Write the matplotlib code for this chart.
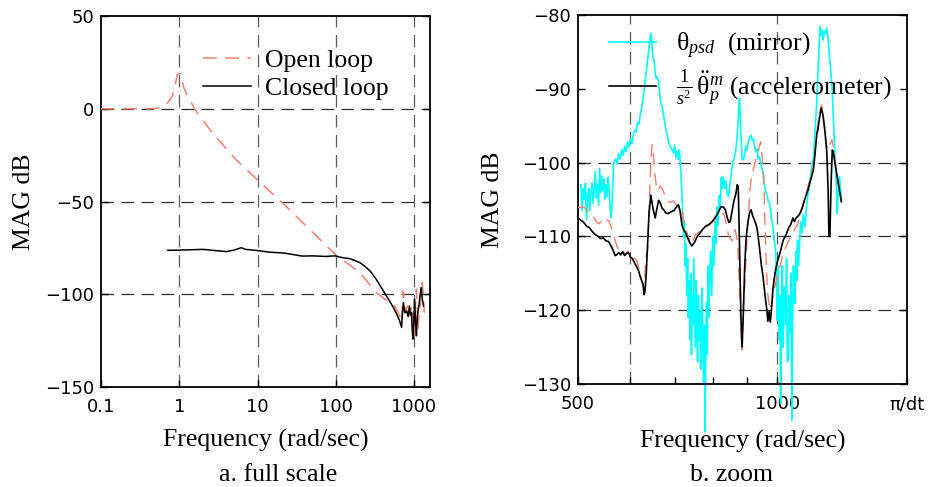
import numpy as np
import matplotlib
matplotlib.use('Agg')
import matplotlib.pyplot as plt

plt.rcParams['font.family'] = ['Liberation Serif', 'DejaVu Sans']
plt.rcParams['mathtext.fontset'] = 'custom'
plt.rcParams['mathtext.rm'] = 'Liberation Serif'
plt.rcParams['mathtext.it'] = 'Liberation Serif:italic'
plt.rcParams['mathtext.bf'] = 'Liberation Serif:bold'

# ---- full scale: open loop vs closed loop ----
open_freq = [0.1, 0.15, 0.2, 0.3, 0.4, 0.5, 0.57, 0.65, 0.72, 0.81, 0.88, 0.94, 1.02, 1.06,
             1.13, 1.25, 1.36, 1.59, 2.66, 5.3, 9.9, 23.0, 51.2, 100, 203, 330, 450, 540, 580,
             626, 660, 694, 710, 728, 750, 784, 810, 838, 870, 899, 925, 949, 975, 1000,
             1030, 1072, 1100, 1124, 1160, 1204, 1240, 1270, 1310, 1351]
open_db = [0, 0, 0, 0, 0, 0.2, 0.8, 2.0, 3.5, 6.6, 12, 18.3, 19.2, 17.5,
           12, 7.5, 4.8, -0.5, -13.1, -27.4, -38.2, -52.5, -66.8, -78.8, -88.3, -99.1, -103.5,
           -105.4, -107, -109.9, -112, -115.2, -106, -98.2, -104, -109.9, -107, -105.4, -110,
           -111.7, -106, -108.1, -115, -122.4, -110, -97.3, -110, -118.8, -110, -106.3, -98,
           -93.7, -100, -109.9]

closed_freq = [0.71, 1, 2, 3, 4, 5, 6.2, 7, 9.8, 14.2, 22, 37, 50, 75, 97, 120, 150,
               175, 204, 240, 275, 320, 370, 430, 500, 550, 600, 650, 694, 705, 730, 760,
               806, 840, 872, 900, 925, 945, 966, 990, 1016, 1045, 1072, 1100, 1153, 1190,
               1234, 1280, 1322]
closed_db = [-76.3, -76.2, -75.8, -76.5, -77.0, -76.2, -74.9, -75.8, -76.4, -77.3, -77.8,
             -79.4, -79.3, -79.6, -79.3, -80.2, -80.8, -81.8, -83.0, -85.2, -87.5, -91.2, -95.5,
             -100, -104.5, -107.5, -110.7, -114, -117.9, -112, -104.5, -110, -109, -112, -106.3,
             -111, -109.9, -118, -124.2, -115, -102.7, -115, -122.4, -112, -106.3, -101, -96.4,
             -103, -106.3]

# ---- zoom: mirror psd, accelerometer, loop response ----
mirror_freq = [505, 507, 509, 511, 513, 515, 517, 519, 521, 523, 525, 527, 529, 531, 533, 535,
               537, 539, 541, 543, 545, 547, 549, 551, 553, 555, 557, 559, 561, 563,
               566, 570, 573, 576, 579, 582, 585, 588, 591, 594, 597, 600, 603, 606, 609, 612,
               615, 618, 621, 624, 627, 630, 633, 636, 639, 642, 644, 646, 648, 650, 652, 654,
               656, 658, 661, 664, 667, 670, 673, 677, 681, 685, 689, 693, 697, 700, 703, 706,
               709, 711, 714, 717,
               719, 722, 724, 726, 728, 730, 732, 734, 736, 738, 740, 742, 744, 746, 748, 750,
               752, 754, 756, 758, 760, 762, 764, 766, 768, 770, 772, 774, 776, 778, 780, 782,
               784, 786, 788, 790, 793, 796, 799, 802, 805, 808, 811, 814, 817, 820, 823, 826,
               829, 833, 836, 840, 844, 848, 852, 856, 860, 864, 868, 872, 875, 877, 879, 882,
               885, 889, 893, 897, 900, 904, 908, 913, 917, 921, 924, 928, 932, 936, 940, 944,
               948, 952, 955, 958, 962, 966, 970, 973, 976, 980, 983, 986, 989, 992, 995, 998,
               1000, 1003, 1006, 1009, 1012, 1015, 1018, 1021, 1024, 1027, 1030, 1033, 1036,
               1040, 1043, 1046, 1049, 1052, 1055, 1058, 1061, 1064, 1067, 1070, 1073, 1077,
               1081, 1085, 1090, 1095, 1101, 1107, 1112, 1117, 1122, 1128, 1134, 1140, 1147,
               1152, 1156, 1160, 1164, 1168, 1173, 1178, 1183, 1188, 1193, 1198, 1204, 1210,
               1216, 1220, 1223, 1228, 1232, 1236, 1239, 1242, 1246, 1250]
mirror_db = [-103.0, -106.5, -103.5, -105, -102.8, -107.7, -104.5, -103.5, -106.5, -104, -102.8,
             -105.5, -103.5, -101.2, -104.8, -103, -105.8, -100.8, -104, -101.8, -103.8, -102.2,
             -105, -103, -104.6, -102, -103.5, -106, -107.5, -105.3,
             -100, -99.5, -100.2, -98.8, -99.5, -98.2, -99, -97.8, -98.5, -97.2, -97.9, -96.8,
             -97.4, -96.2, -95.6, -95.9, -94.5, -94.8, -93.5, -92.5, -91.2, -89.8, -88.2, -86.5,
             -85, -83.2, -82.5, -83.5, -85.2, -85.8, -86.5, -87.8, -88.6, -88.4, -88.8, -90.5,
             -92, -92.3, -93.5, -95, -96, -97.2, -97.8, -98.2, -98.7, -97.6, -99.3, -98.5,
             -99.6, -98.3, -100.2, -103.3,
             -106, -110, -108, -114, -111, -118, -113, -121, -116, -124, -115, -126, -118,
             -122, -113, -119, -125, -116, -123, -127, -118, -124, -120, -128, -121, -117,
             -125, -130, -122, -136.5, -124, -119, -126, -114, -121, -117, -112, -118, -110,
             -114, -108, -111, -106, -108.5, -104.5, -106, -102, -103.5,
             -101.9, -103.5, -102.5, -104.2, -104.6, -103, -101.5, -100.2, -99.5, -98.7, -97.5,
             -95, -92.5, -91.3, -93.5, -97, -99.6, -99.6, -98.8, -97.8, -98.3, -97.2, -96.6,
             -96.3, -97, -96.8, -97.8, -98.5, -98.2, -99.5, -99.2, -100.1, -100.8, -101.5,
             -102.6, -103.3, -104.2, -104.6, -105.4, -105.5, -106, -107.6, -108.1, -109, -110.5,
             -111, -112.3, -117,
             -121.3, -114, -124, -118, -132.6, -120, -114, -125, -117, -116.8, -122, -113, -127,
             -126.3, -118, -123, -115, -134.9, -121, -114, -119, -119.1, -112, -116, -110.5,
             -114, -110.5, -108, -109.5, -107, -108.7, -106, -104.5, -103.5, -102, -100.5,
             -99.6, -96, -92, -88, -84.5, -81.6, -82.8, -82, -83.4, -82.2, -82.5, -81.8, -83,
             -85, -87.5, -89.7, -94, -97, -99.6, -103, -106.9, -104, -102.5, -101.9, -103.5,
             -105.1]

accel_freq = [500, 505, 510, 515, 520, 525, 530, 536, 541, 546, 551, 556, 561, 565, 569, 572,
              576, 580, 584, 588, 592, 596, 600, 604, 608, 613, 617, 621, 624, 627, 629, 631,
              634, 637, 640, 644, 647, 650, 654, 658, 662, 666, 670, 674, 678, 683, 688, 693,
              698, 703, 709, 713, 718, 722, 727, 732, 737, 743, 750, 757, 765, 772, 780, 788,
              797, 805, 814, 822, 829, 835, 840, 845, 849, 855, 860, 866, 870, 873, 876, 879,
              882, 885, 889, 893, 897, 902, 908, 913, 918, 924, 929, 933, 940, 946, 952, 959,
              964, 968, 972, 976, 980, 985, 992, 1000, 1010, 1021, 1031, 1040, 1048, 1056,
              1061, 1068, 1076, 1081, 1092, 1100, 1113, 1122, 1134, 1140, 1147, 1152, 1158,
              1166, 1172, 1180, 1188, 1194, 1197, 1201, 1206, 1211, 1215, 1222, 1232, 1241, 1250]
accel_db = [-107.5, -107.8, -108.1, -108.6, -108.8, -109.3, -109.7, -110.0, -110.3, -110.2,
            -110.6, -110.7, -111.3, -111.9, -112.6, -112.5, -112.2, -112.5, -112.1, -112.6,
            -112.3, -112.2, -112.8, -113.0, -113.5, -114.1, -114.6, -115.5, -116.0, -116.5,
            -117.9, -117.5, -115.0, -111.0, -107.0, -104.4, -105.5, -106.5, -107.5, -106.2,
            -105.1, -105.5, -106.2, -106.4, -106.8, -106.9, -106.8, -106.6, -106.5, -106.1,
            -105.7, -106.5, -108.5, -109.1, -109.5, -110.2, -110.8, -111.3, -110.8, -110.0,
            -109.5, -109.0, -108.6, -108.4, -108.0, -107.5, -106.8, -106.0, -106.0, -106.4,
            -107.4, -108.1, -108.0, -106.5, -105.2, -104.2, -103.0, -103.2, -109.0, -116.0,
            -122.0, -125.0, -120.0, -114.0, -110.5, -108.4, -106.8, -106.4, -107.2, -107.8,
            -108.4, -109.1, -111.5, -113.8, -115.5, -118.2, -119.8, -121.5, -120.2, -121.6,
            -120.0, -117.2, -115.0, -113.5, -112.2, -110.5, -109.8, -108.9, -108.4, -107.5,
            -108.0, -107.5, -107.2, -107.0, -106.0, -105.0, -103.7, -102.5, -101.0, -99.0,
            -96.3, -95.5, -94.0, -92.6, -93.5, -95.6, -98.5, -104.0, -110.0, -110.0, -103.0,
            -98.3, -98.5, -100.0, -101.9, -103.6, -105.3]

loop_freq = [500, 505, 510, 515, 520, 524, 528, 533, 538, 542, 547, 551, 556, 560, 565, 570,
             575, 580, 585, 590, 595, 600, 605, 609, 613, 617, 621, 624, 627, 630, 634, 637,
             641, 644, 647, 650, 653, 657, 661, 665, 670, 675, 681, 686, 691, 696, 701, 706,
             711, 717, 721, 726, 730, 735, 740, 746, 752, 760, 767, 774, 780, 787, 793, 800,
             808, 815, 822, 829, 834, 840, 845, 849, 854, 859, 864, 868, 872, 876, 880, 884,
             888, 891, 894, 899, 904, 909, 913, 918, 924, 928, 932, 937, 941, 944, 948, 951,
             954, 958, 962, 965, 968, 972, 976, 980, 985, 992, 1000, 1010, 1021, 1030, 1042,
             1050, 1058, 1066, 1073, 1081, 1092, 1100, 1113, 1122, 1134, 1140, 1147, 1155,
             1160, 1166, 1172, 1180, 1188, 1194, 1202, 1210, 1218, 1225, 1231, 1240, 1250]
loop_db = [-106.0, -106.1, -106.0, -106.4, -106.8, -106.9, -107.4, -108.0, -108.3, -107.9,
           -108.2, -107.8, -107.8, -108.5, -109.6, -110.8, -111.8, -112.6, -112.1, -112.4,
           -112.0, -112.5, -112.9, -113.0, -113.2, -114.0, -115.0, -116.0, -116.8, -116.0,
           -112.5, -111.8, -105.0, -100.0, -97.6, -99.0, -101.5, -103.3, -103.8, -103.2,
           -103.5, -104.2, -105.1, -105.3, -105.4, -105.2, -105.5, -105.9, -106.0, -106.2,
           -107.5, -108.8, -109.4, -110.2, -111.2, -110.5, -109.8, -109.5, -109.2, -108.9,
           -108.8, -108.5, -108.3, -108.0, -107.6, -107.3, -107.0, -106.9, -107.5, -109.0,
           -110.0, -110.2, -110.6, -109.8, -109.1, -110.0, -111.5, -116.0, -121.0, -125.4,
           -121.0, -117.5, -116.3, -111.0, -107.5, -104.0, -102.4, -101.3, -100.3, -99.5,
           -98.7, -98.3, -97.6, -97.2, -98.8, -100.5, -101.9, -108.0, -113.0, -115.9, -118.0,
           -119.2, -120.0, -119.0, -118.3, -116.8, -115.5, -114.0, -112.3, -111.5, -110.5,
           -109.8, -109.5, -108.8, -108.5, -107.3, -106.1, -105.0, -103.2, -102.0, -100.6,
           -98.8, -96.0, -94.0, -93.0, -92.2, -93.0, -95.5, -97.8, -98.3, -97.5, -96.9, -98.5,
           -100.5, -101.9, -103.5, -105.3]

dt = 0.002
nyquist = np.pi / dt

salmon = '#f4806c'
grid_h = '#303030'
grid_v = '#5c5c5c'
tick_font = 'DejaVu Sans'
label_size = 18.5


def dashed_grid(ax, xs, ys):
    for x in xs:
        ax.axvline(x, color=grid_v, lw=0.9, dashes=(10, 6), zorder=1)
    for y in ys:
        ax.axhline(y, color=grid_h, lw=0.9, dashes=(10, 6), zorder=1)


def style_axes(ax):
    for s in ax.spines.values():
        s.set_linewidth(1.3)
    ax.tick_params(which='both', direction='in', length=5, width=1, right=True, top=False,
                   labelsize=13, labelfontfamily=tick_font, pad=5)
    ax.tick_params(axis='x', pad=8)


fig = plt.figure(figsize=(9.32, 4.87), dpi=100)
ax1 = fig.add_axes([0.1084, 0.2053, 0.353, 0.7618])
ax2 = fig.add_axes([0.6202, 0.2115, 0.353, 0.7577])

# left: full frequency range
ax1.set_xscale('log')
ax1.plot(open_freq, open_db, color=salmon, lw=1.1, dashes=(9, 5.5), label='Open loop', zorder=3)
ax1.plot(closed_freq, closed_db, color='black', lw=1.1, label='Closed loop', zorder=4)
ax1.set_xlim(0.1, 1600)
ax1.set_ylim(-150, 50)
ax1.set_xticks([0.1, 1, 10, 100, 1000])
ax1.set_xticklabels(['0.1', '1', '10', '100', '1000'])
ax1.xaxis.set_minor_locator(matplotlib.ticker.NullLocator())
ax1.set_yticks([50, 0, -50, -100, -150])
dashed_grid(ax1, [1, 10, 100, 1000], [0, -50, -100])
style_axes(ax1)
ax1.set_xlabel('Frequency (rad/sec)', fontsize=label_size)
ax1.set_ylabel('MAG dB', fontsize=label_size)
ax1.xaxis.set_label_coords(0.5, -0.113)
ax1.yaxis.set_label_coords(-0.2, 0.5)
ax1.legend(loc='upper left', bbox_to_anchor=(0.31, 0.912), frameon=False, fontsize=label_size,
           handlelength=1.85, handletextpad=0.55, labelspacing=0.22, borderpad=0, borderaxespad=0)

# right: zoom near the resonances
ax2.set_xscale('log')
ax2.plot(mirror_freq, mirror_db, color='cyan', lw=1.2, clip_on=False, zorder=2,
         label=r'$\mathrm{\theta}_{psd}$  (mirror)')
ax2.plot(loop_freq, loop_db, color=salmon, lw=1.0, dashes=(9, 5.5), zorder=3)
ax2.plot(accel_freq, accel_db, color='black', lw=1.2, zorder=4,
         label=r'$\frac{\mathit{1}}{s^2}\,\ddot{\mathrm{\theta}}_p^m$ (accelerometer)')
ax2.set_xlim(500, nyquist)
ax2.set_ylim(-130, -80)
ax2.set_xticks([500, 1000, nyquist])
ax2.set_xticklabels(['500', '1000', 'π/dt'])
ax2.set_xticks([600, 700, 800, 900], minor=True)
ax2.xaxis.set_minor_formatter(matplotlib.ticker.NullFormatter())
ax2.set_yticks([-80, -90, -100, -110, -120, -130])
dashed_grid(ax2, [600, 1000], [-100, -110, -120])
style_axes(ax2)
ax2.set_xlabel('Frequency (rad/sec)', fontsize=label_size)
ax2.set_ylabel('MAG dB', fontsize=label_size)
ax2.xaxis.set_label_coords(0.5, -0.125)
ax2.yaxis.set_label_coords(-0.225, 0.5)
ax2.legend(loc='upper left', bbox_to_anchor=(0.094, 0.957), frameon=False, fontsize=label_size,
           handlelength=1.85, handletextpad=0.75, labelspacing=0.25, borderpad=0, borderaxespad=0)

fig.text(278 / 932, 1 - 475 / 487, 'a. full scale', fontsize=label_size, ha='center', va='center')
fig.text(732 / 932, 1 - 475 / 487, 'b. zoom', fontsize=label_size, ha='center', va='center')

fig.savefig('out.png', dpi=100)
